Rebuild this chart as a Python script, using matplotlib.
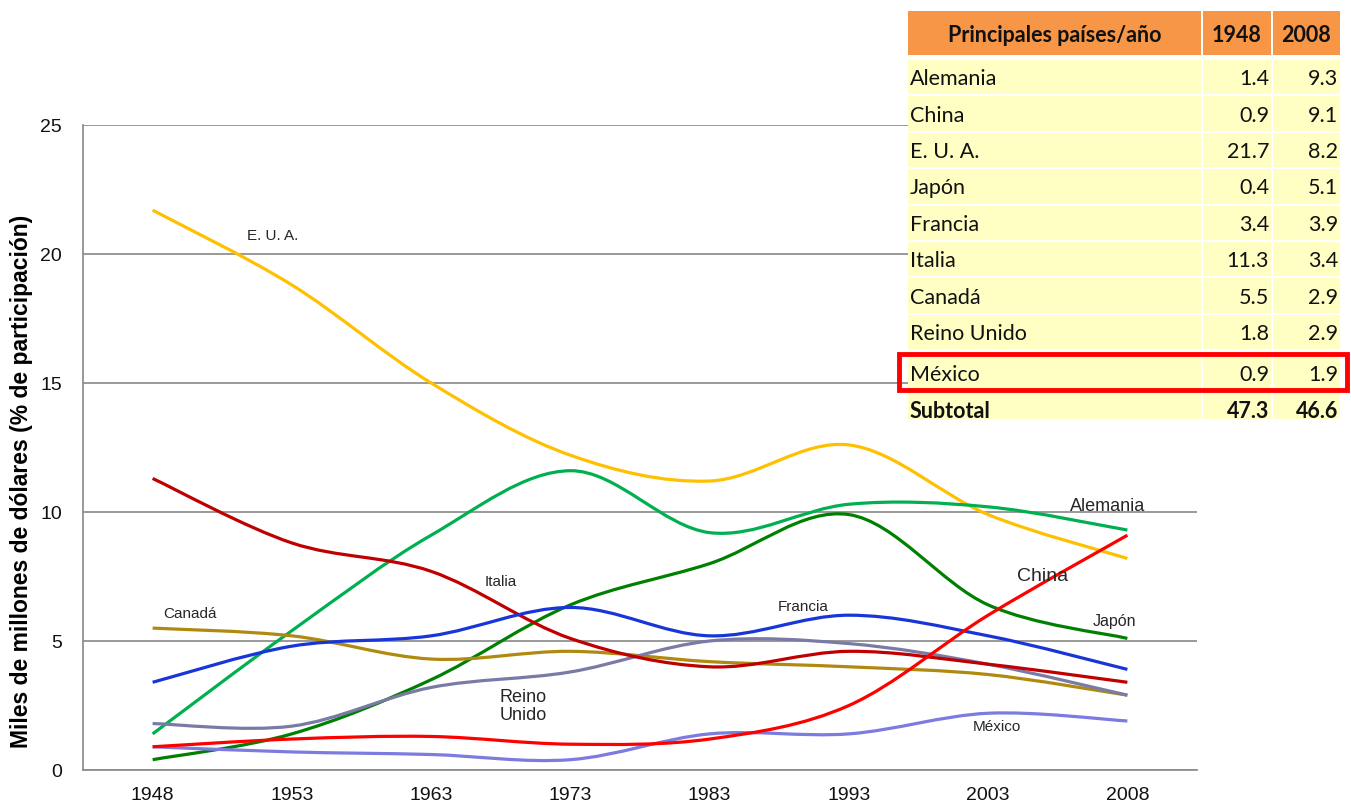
import matplotlib.pyplot as plt
import numpy as np
from matplotlib.path import Path
from matplotlib.patches import PathPatch, Rectangle

plt.rcParams['font.family'] = ['Liberation Sans', 'DejaVu Sans']

# años (eje de categorías)
anios = ['1948', '1953', '1963', '1973', '1983', '1993', '2003', '2008']

# participación por país (%)
eua = [21.7, 18.8, 15.0, 12.2, 11.2, 12.6, 9.9, 8.2]
alemania = [1.4, 5.4, 9.1, 11.6, 9.2, 10.3, 10.2, 9.3]
japon = [0.4, 1.4, 3.5, 6.4, 8.0, 9.9, 6.4, 5.1]
francia = [3.4, 4.8, 5.2, 6.3, 5.2, 6.0, 5.2, 3.9]
italia = [11.3, 8.8, 7.7, 5.1, 4.0, 4.6, 4.1, 3.4]
canada = [5.5, 5.2, 4.3, 4.6, 4.2, 4.0, 3.7, 2.9]
reino_unido = [1.8, 1.7, 3.2, 3.8, 5.0, 4.9, 4.1, 2.9]
china = [0.9, 1.2, 1.3, 1.0, 1.2, 2.5, 6.0, 9.1]
mexico = [0.9, 0.7, 0.6, 0.4, 1.4, 1.4, 2.2, 1.9]

# tabla de principales países
tabla_paises = ['Alemania', 'China', 'E. U. A.', 'Japón', 'Francia', 'Italia',
                'Canadá', 'Reino Unido', 'México']
tabla_1948 = [1.4, 0.9, 21.7, 0.4, 3.4, 11.3, 5.5, 1.8, 0.9]
tabla_2008 = [9.3, 9.1, 8.2, 5.1, 3.9, 3.4, 2.9, 2.9, 1.9]
subtotal = [47.3, 46.6]

series = [
    (eua, '#FFC000'),
    (alemania, '#00B050'),
    (japon, '#008000'),
    (canada, '#B08A10'),
    (reino_unido, '#7A7AA6'),
    (italia, '#C00000'),
    (francia, '#1836D8'),
    (mexico, '#7B7BE0'),
    (china, '#FF0000'),
]


def curva_suave(y):
    # segmentos Bezier cúbicos tipo Catmull-Rom (línea suavizada)
    x = np.arange(len(y), dtype=float)
    p = np.column_stack([x, y])
    verts = [p[0]]
    codes = [Path.MOVETO]
    n = len(p)
    for i in range(n - 1):
        p0 = p[i - 1] if i > 0 else p[i]
        p1, p2 = p[i], p[i + 1]
        p3 = p[i + 2] if i + 2 < n else p[i + 1]
        c1 = p1 + (p2 - p0) / 6.0
        c2 = p2 - (p3 - p1) / 6.0
        verts += [c1, c2, p2]
        codes += [Path.CURVE4] * 3
    return Path(verts, codes)


fig = plt.figure(figsize=(13.51, 8.05), dpi=100)
ax = fig.add_axes([83 / 1351, 35 / 805, (1197 - 83) / 1351, (770 - 125) / 805])

for datos, color in series:
    ax.add_patch(PathPatch(curva_suave(datos), facecolor='none', edgecolor=color,
                           lw=2.3, capstyle='butt', joinstyle='round', zorder=3))

ax.set_xlim(-0.5, len(anios) - 0.5)
ax.set_ylim(0, 25)
ax.set_yticks([0, 5, 10, 15, 20, 25])
ax.set_xticks(range(len(anios)))
ax.set_xticklabels(anios)
ax.tick_params(length=0, labelsize=14, labelcolor='#111111')
ax.tick_params(axis='x', pad=12)
ax.tick_params(axis='y', pad=15)
ax.grid(axis='y', color='#888888', lw=1.2)
ax.set_axisbelow(True)
for lado in ['top', 'right']:
    ax.spines[lado].set_visible(False)
for lado in ['left', 'bottom']:
    ax.spines[lado].set_color('#888888')
    ax.spines[lado].set_linewidth(1.2)
ax.set_ylabel('Miles de millones de dólares (% de participación)', fontsize=16.5,
              fontweight='bold')
ax.yaxis.set_label_coords(-0.045, 0.447)

# etiquetas de las series
etiquetas = [
    ('E. U. A.', 0.86, 20.7, 11),
    ('Canadá', 0.27, 6.05, 11),
    ('Italia', 2.5, 7.3, 11),
    ('Reino\nUnido', 2.66, 2.45, 13),
    ('Francia', 4.67, 6.3, 11),
    ('China', 6.39, 7.5, 14),
    ('Alemania', 6.86, 10.2, 13),
    ('Japón', 6.91, 5.75, 11.5),
    ('México', 6.06, 1.67, 11),
]
for texto, xi, yi, fs in etiquetas:
    ax.text(xi, yi, texto, ha='center', va='center', fontsize=fs,
            color='#262626', linespacing=1.1, zorder=4)

# tabla superpuesta en coordenadas de píxel
tab = fig.add_axes([0, 0, 1, 1])
tab.set_xlim(0, 1351)
tab.set_ylim(805, 0)
tab.axis('off')
tab.patch.set_alpha(0)

col_x = [(908, 1201), (1203, 1271), (1273, 1340)]
naranja = '#F79646'
amarillo = '#FFFFC4'
fuente_tabla = ['Lato', 'DejaVu Sans']
fs_tabla = 15.5

for (x0, x1) in col_x:
    tab.add_patch(Rectangle((x0, 11), x1 - x0, 44, facecolor=naranja, edgecolor='none'))
encabezado = ['Principales países/año', '1948', '2008']
for (x0, x1), txt in zip(col_x, encabezado):
    tab.text((x0 + x1) / 2, 35, txt, ha='center', va='center', fontsize=fs_tabla,
             fontweight='bold', family=fuente_tabla, color='#111111')

alto = 36.4
y_ini = 60
filas = list(zip(tabla_paises, tabla_1948, tabla_2008))
filas.append(('Subtotal', subtotal[0], subtotal[1]))
i_mex = tabla_paises.index('México')
for i, (pais, a, b) in enumerate(filas):
    y0 = y_ini + i * alto + (5 if i >= i_mex else 0)
    h = alto - 2 if i < len(filas) - 1 else 26
    for (x0, x1) in col_x:
        tab.add_patch(Rectangle((x0, y0), x1 - x0, h, facecolor=amarillo, edgecolor='none'))
    yc = y0 + alto / 2 + 1
    peso = 'bold' if pais == 'Subtotal' else 'normal'
    tab.text(910, yc, pais, ha='left', va='center', fontsize=fs_tabla, fontweight=peso,
             family=fuente_tabla, color='#111111')
    tab.text(1269, yc, f'{a:.1f}', ha='right', va='center', fontsize=fs_tabla,
             fontweight=peso, family=fuente_tabla, color='#111111')
    tab.text(1338, yc, f'{b:.1f}', ha='right', va='center', fontsize=fs_tabla,
             fontweight=peso, family=fuente_tabla, color='#111111')

# recuadro rojo para México
y_mex = y_ini + i_mex * alto
tab.add_patch(Rectangle((899, y_mex + 3), 448, 36, facecolor='none',
                        edgecolor='#FF0000', lw=3.5))

fig.savefig('out.png', dpi=100)
